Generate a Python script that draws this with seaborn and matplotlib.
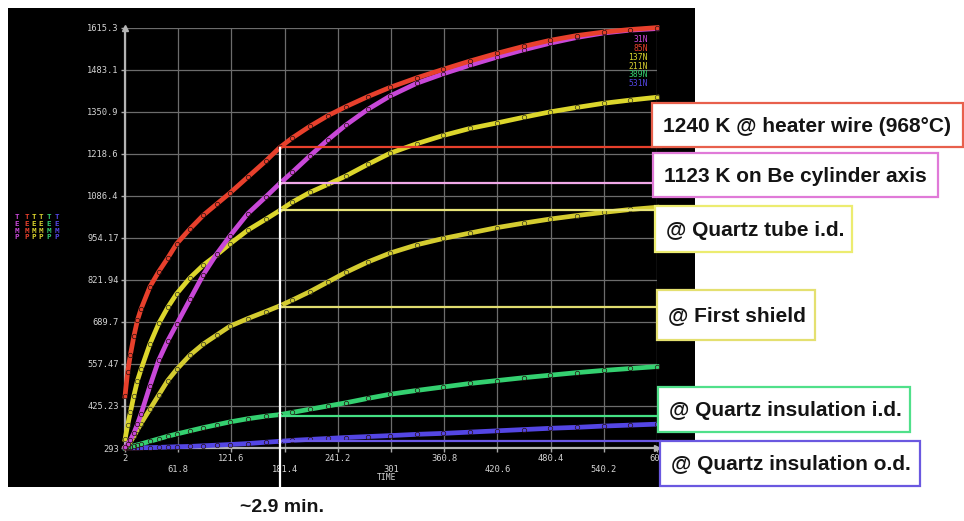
import matplotlib
matplotlib.use("Agg")
import matplotlib.pyplot as plt
import matplotlib.transforms as mtransforms
from matplotlib.patches import Rectangle
import numpy as np
import pandas as pd
import seaborn as sns

# ---------------- data ----------------
time_s = [2, 5, 8, 12, 16, 20, 30, 40, 50, 60, 75, 90, 105, 120, 140, 160, 176,
          190, 210, 230, 250, 275, 300, 330, 360, 390, 420, 450, 480, 510, 540, 570, 600]

temp_31N = [295, 305, 318, 340, 368, 400, 488, 570, 630, 682, 760, 838, 903, 960, 1030, 1082, 1125,
            1160, 1212, 1262, 1308, 1358, 1400, 1440, 1470, 1497, 1522, 1545, 1566, 1584, 1598, 1607, 1612]
temp_85N = [456, 533, 585, 645, 695, 730, 800, 848, 890, 935, 982, 1025, 1060, 1095, 1145, 1195, 1238,
            1268, 1305, 1338, 1366, 1398, 1427, 1457, 1484, 1510, 1534, 1556, 1575, 1590, 1601, 1609, 1615]
temp_137N = [320, 365, 405, 458, 505, 540, 620, 685, 735, 778, 828, 868, 900, 935, 978, 1012, 1040,
             1066, 1097, 1122, 1148, 1185, 1220, 1250, 1276, 1298, 1315, 1333, 1350, 1364, 1377, 1387, 1396]
temp_211N = [295, 302, 312, 330, 350, 370, 415, 460, 505, 540, 585, 620, 648, 676, 700, 722, 740,
             758, 785, 815, 845, 878, 906, 932, 952, 969, 986, 1000, 1013, 1024, 1034, 1043, 1050]
temp_389N = [293, 295, 297, 300, 303, 306, 314, 322, 330, 337, 347, 357, 366, 375, 385, 393, 398,
             405, 415, 425, 435, 449, 462, 474, 485, 496, 505, 514, 522, 530, 537, 543, 549]
temp_531N = [293, 293, 293, 293, 293, 294, 294, 295, 296, 297, 298, 300, 302, 304, 307, 311, 314,
             317, 320, 323, 326, 329, 332, 336, 339, 343, 347, 351, 355, 358, 362, 365, 368]

series_names = ["31N", "85N", "137N", "211N", "389N", "531N"]
series_colors = ["#c848d8", "#e8402c", "#dcd62c", "#d4cc30", "#34d070", "#5446e4"]

x_ticks = [2, 61.8, 121.6, 181.4, 241.2, 301, 360.8, 420.6, 480.4, 540.2, 600]
y_ticks = [293, 425.23, 557.47, 689.7, 821.94, 954.17, 1086.4, 1218.6, 1350.9, 1483.1, 1615.3]
y_tick_labels = ["293", "425.23", "557.47", "689.7", "821.94", "954.17",
                 "1086.4", "1218.6", "1350.9", "1483.1", "1615.3"]

marker_time = 176
marker_values = [1238, 1125, 1040, 737, 393, 314]
marker_line_colors = ["#e8402c", "#f0a8e8", "#e8e478", "#e0dc70", "#44e084", "#6a58e4"]

box_texts = ["1240 K @ heater wire (968\u00b0C)", "1123 K on Be cylinder axis",
             "@ Quartz tube i.d.", "@ First shield",
             "@ Quartz insulation i.d.", "@ Quartz insulation o.d."]
box_edge_colors = ["#e8604c", "#e07ad8", "#ecec70", "#e4e070", "#50e08a", "#6a58e0"]

# ---------------- figure ----------------
W, H = 964, 521
fig = plt.figure(figsize=(W / 100, H / 100), dpi=100)
fig.patch.set_facecolor("white")

def fx(x):
    return x / W

def fy(y):
    return 1 - y / H

# black screen background
fig.add_artist(Rectangle((fx(8), fy(487)), fx(695) - fx(8), fy(8) - fy(487),
                         transform=fig.transFigure, facecolor="black",
                         edgecolor="none", zorder=-10))

ax = fig.add_axes([fx(125), fy(448), fx(657) - fx(125), fy(27.5) - fy(448)])
ax.set_facecolor("black")

all_series = [temp_31N, temp_85N, temp_137N, temp_211N, temp_389N, temp_531N]
df = pd.DataFrame({
    "time": np.tile(time_s, len(series_names)),
    "temp": np.concatenate(all_series),
    "series": np.repeat(series_names, len(time_s)),
})

draw_order = [5, 4, 3, 2, 0, 1]
for i in draw_order:
    sub = df[df["series"] == series_names[i]]
    sns.lineplot(data=sub, x="time", y="temp", ax=ax, color=series_colors[i],
                 lw=3.4, marker="o", markersize=3.2, markerfacecolor="none",
                 markeredgecolor="#3a3a20" if i in (2, 3) else "#2a1010",
                 markeredgewidth=0.5, alpha=1.0,
                 legend=False, clip_on=False, zorder=3, sort=False)

ax.set_xlim(2, 600)
ax.set_ylim(293, 1615.3)
ax.set_xlabel("")
ax.set_ylabel("")

ax.set_xticks(x_ticks)
xlabels = []
for k, v in enumerate(x_ticks):
    s = ("%g" % v)
    xlabels.append(s if k % 2 == 0 else "\n" + s)
ax.set_xticklabels(xlabels)
ax.set_yticks(y_ticks)
ax.set_yticklabels(y_tick_labels)
for lab in ax.get_xticklabels() + ax.get_yticklabels():
    lab.set_family("DejaVu Sans Mono")
    lab.set_fontsize(6.3)
    lab.set_color("#d4d4d4")
for lab in ax.get_xticklabels():
    lab.set_linespacing(1.25)
ax.tick_params(axis="both", colors="#a8a8a8", length=3, width=1, pad=1.5)
ax.tick_params(axis="x", labelcolor="#d4d4d4")
ax.tick_params(axis="y", labelcolor="#d4d4d4")

ax.grid(True, color="#6c6c6c", lw=0.9, zorder=0)
ax.set_axisbelow(True)
for side in ["top", "right"]:
    ax.spines[side].set_visible(False)
for side in ["left", "bottom"]:
    ax.spines[side].set_color("#b4b4b4")
    ax.spines[side].set_linewidth(1.6)
ax.plot([0], [1], marker="^", color="#b4b4b4", ms=5, transform=ax.transAxes, clip_on=False)
ax.plot([1], [0], marker=">", color="#b4b4b4", ms=5, transform=ax.transAxes, clip_on=False)

# annotation lines
ax.hlines(marker_values, marker_time, 606, colors=marker_line_colors, lw=1.6,
          clip_on=False, zorder=4)
blend = mtransforms.blended_transform_factory(ax.transData, fig.transFigure)
ax.plot([marker_time, marker_time], [fy(487), fy(148)], color="white", lw=1.6,
        transform=blend, clip_on=False, zorder=5)

# legend (series names)
for i, (name, c) in enumerate(zip(series_names, series_colors)):
    fig.text(fx(648), fy(40 + i * 8.7), name, ha="right", va="center",
             family="DejaVu Sans Mono", fontsize=5.8, color=c)

# TEMP labels at left
col_x = [17, 26.5, 33.5, 40.5, 48.5, 57]
for j, c in enumerate(series_colors):
    for k, letter in enumerate("TEMP"):
        fig.text(fx(col_x[j]), fy(217 + k * 6.8), letter, ha="center", va="center",
                 family="DejaVu Sans Mono", fontsize=5.4, color=c, fontweight="bold")

fig.text(fx(387), fy(477), "TIME", ha="center", va="center",
         family="DejaVu Sans Mono", fontsize=5.8, color="#d4d4d4")

# annotation boxes
box_rects = [(652, 103, 963, 147), (653, 153, 938, 197), (655, 206, 852, 252),
             (657, 290, 815, 340), (658, 387, 910, 432), (660, 441, 920, 486)]
box_font = ["Liberation Sans", "DejaVu Sans"]
for (l, t, r, b), ec, txt in zip(box_rects, box_edge_colors, box_texts):
    fig.add_artist(Rectangle((fx(l), fy(b)), fx(r) - fx(l), fy(t) - fy(b),
                             transform=fig.transFigure, facecolor="white",
                             edgecolor=ec, lw=1.6, zorder=6))
    fig.text(fx(l + 11), fy((t + b) / 2 + 1), txt, ha="left", va="center",
             fontsize=15, fontweight="bold", family=box_font, color="#141414", zorder=7)

fig.text(fx(282), fy(507), "~2.9 min.", ha="center", va="center",
         fontsize=14, fontweight="bold", family=box_font, color="#141414")

fig.savefig("out.png", dpi=100, facecolor="white")
